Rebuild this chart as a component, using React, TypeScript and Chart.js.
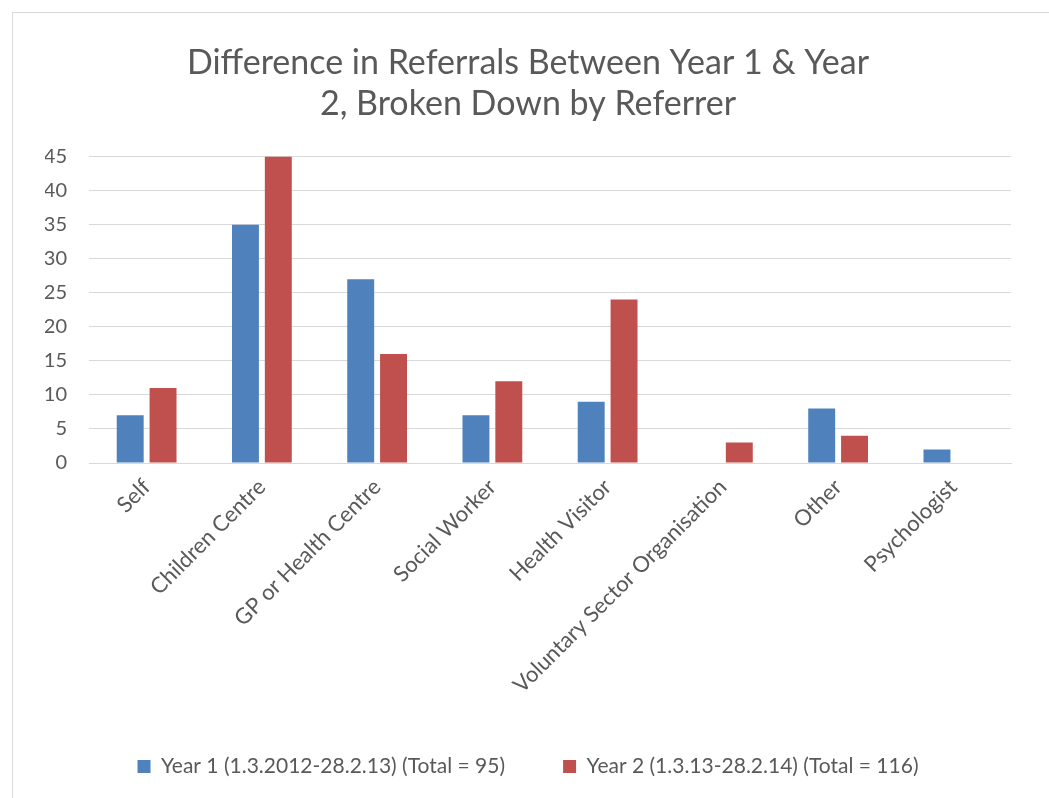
import React, { useEffect, useRef } from "react";
import { Chart, registerables } from "chart.js";

Chart.register(...registerables);

const categories = [
  "Self",
  "Children Centre",
  "GP or Health Centre",
  "Social Worker",
  "Health Visitor",
  "Voluntary Sector Organisation",
  "Other",
  "Psychologist",
];
const year1 = [7, 35, 27, 7, 9, 0, 8, 2];
const year2 = [11, 45, 16, 12, 24, 3, 4, 0];
const year1Label = "Year 1 (1.3.2012-28.2.13) (Total = 95)";
const year2Label = "Year 2 (1.3.13-28.2.14) (Total = 116)";
const titleLines = ["Difference in Referrals Between Year 1 & Year", "2, Broken Down by Referrer"];

const FONT = "Lato, 'Open Sans', sans-serif";
const TEXT = "#595959";

export default function App() {
  const ref = useRef<HTMLCanvasElement>(null);
  useEffect(() => {
    const chart = new Chart(ref.current!, {
      type: "bar",
      data: {
        labels: categories,
        datasets: [
          { label: year1Label, data: year1, backgroundColor: "#4f81bd", barPercentage: 0.82, categoryPercentage: 0.57 },
          { label: year2Label, data: year2, backgroundColor: "#c0504d", barPercentage: 0.82, categoryPercentage: 0.57 },
        ],
      },
      options: {
        animation: false,
        responsive: false,
        layout: { padding: { left: 32, right: 39, top: 30, bottom: 12 } },
        plugins: {
          title: {
            display: true,
            text: titleLines,
            color: TEXT,
            font: { family: FONT, size: 34, weight: "normal" },
            lineHeight: 1.2,
            padding: { top: 0, bottom: 32 },
          },
          legend: {
            position: "bottom",
            labels: {
              color: TEXT,
              font: { family: FONT, size: 21 },
              boxWidth: 13,
              boxHeight: 13,
              padding: 58,
            },
          },
          tooltip: { enabled: false },
        },
        scales: {
          x: {
            grid: { display: false },
            border: { color: "#d9d9d9" },
            afterFit: (scale: any) => {
              scale.height = 235;
            },
            ticks: {
              color: TEXT,
              font: { family: FONT, size: 22 },
              maxRotation: 45,
              minRotation: 45,
              autoSkip: false,
            },
          },
          y: {
            min: 0,
            max: 45,
            grid: { color: "#d9d9d9", drawTicks: false },
            border: { display: false },
            afterFit: (scale: any) => {
              scale.width = 44;
            },
            ticks: {
              stepSize: 5,
              color: TEXT,
              font: { family: FONT, size: 20 },
              padding: 22,
            },
          },
        },
      },
    });
    return () => chart.destroy();
  }, []);
  return (
    <div style={{ position: "absolute", left: 0, top: 0, width: 1049, height: 798, background: "#fff", overflow: "hidden" }}>
      <div style={{ position: "absolute", left: 12, top: 12, width: 1045, height: 800, border: "1px solid #d9d9d9" }}>
        <canvas ref={ref} width={1037} height={786} style={{ display: "block" }} />
      </div>
    </div>
  );
}
